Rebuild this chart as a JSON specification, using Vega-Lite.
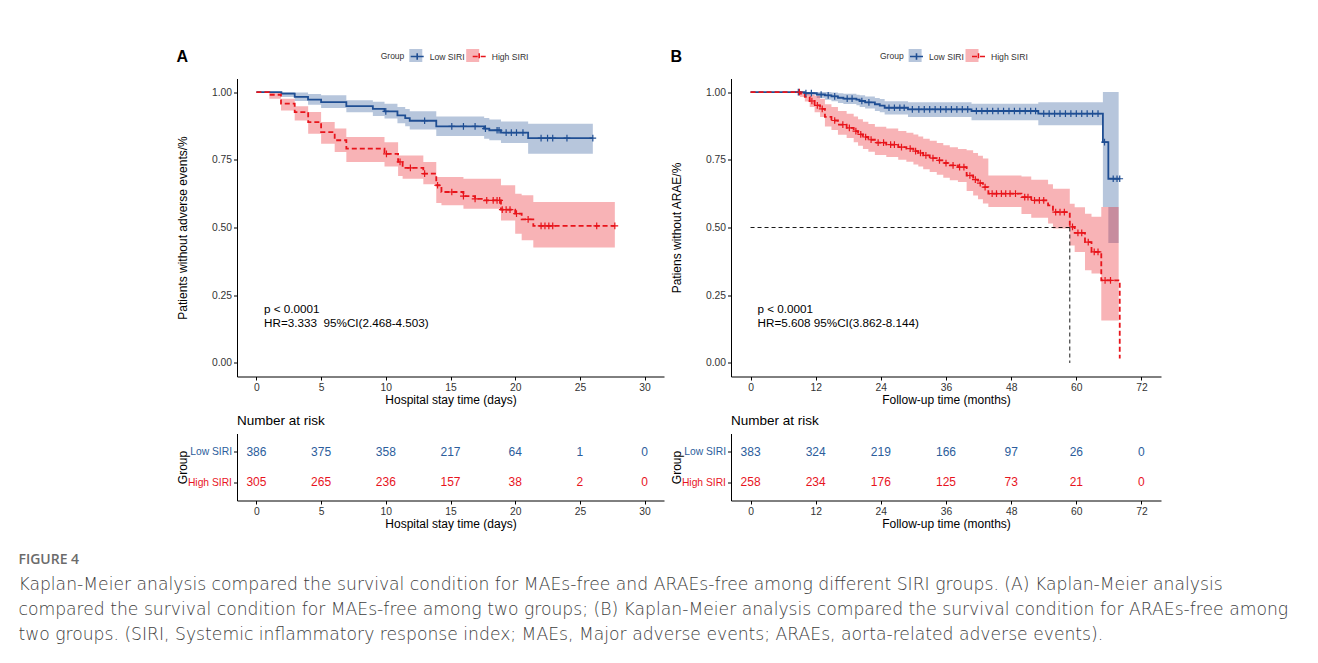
{
  "$schema": "https://vega.github.io/schema/vega-lite/v6.json",
  "background": "white",
  "padding": {"left": 18, "top": 48.5, "right": 5, "bottom": 5},
  "title": {
    "text": "FIGURE 4",
    "subtitle": [
      "Kaplan-Meier analysis compared the survival condition for MAEs-free and ARAEs-free among different SIRI groups. (A) Kaplan-Meier analysis",
      "compared the survival condition for MAEs-free among two groups; (B) Kaplan-Meier analysis compared the survival condition for ARAEs-free among",
      "two groups. (SIRI, Systemic inflammatory response index; MAEs, Major adverse events; ARAEs, aorta-related adverse events)."
    ],
    "orient": "bottom", "anchor": "start", "frame": "bounds", "dx": -158, "offset": 24,
    "font": "Open Sans", "fontSize": 14, "fontWeight": 600, "color": "#6b6b6b",
    "subtitleFont": "DejaVu Sans", "subtitleFontSize": 17.2, "subtitleFontWeight": 300, "subtitleColor": "#3d3d3d", "subtitleLineHeight": 25, "subtitlePadding": 9
  },
  "datasets": {
    "kmA": [
      {"t":0,"s":1,"Group":"Low SIRI"},{"t":1.93,"s":0.994,"Group":"Low SIRI"},{"t":2.96,"s":0.982,"Group":"Low SIRI"},{"t":3.99,"s":0.972,"Group":"Low SIRI"},{"t":5.0,"s":0.963,"Group":"Low SIRI"},{"t":6.95,"s":0.948,"Group":"Low SIRI"},{"t":9.0,"s":0.938,"Group":"Low SIRI"},{"t":9.9,"s":0.929,"Group":"Low SIRI"},{"t":10.9,"s":0.914,"Group":"Low SIRI"},{"t":11.5,"s":0.904,"Group":"Low SIRI"},{"t":11.85,"s":0.894,"Group":"Low SIRI"},{"t":13.9,"s":0.873,"Group":"Low SIRI"},{"t":17.6,"s":0.865,"Group":"Low SIRI"},{"t":18.0,"s":0.859,"Group":"Low SIRI"},{"t":18.9,"s":0.85,"Group":"Low SIRI"},{"t":21.0,"s":0.83,"Group":"Low SIRI"},{"t":26.0,"s":0.83,"Group":"Low SIRI"},
      {"t":0,"s":1,"Group":"High SIRI"},{"t":1.0,"s":0.99,"Group":"High SIRI"},{"t":1.9,"s":0.957,"Group":"High SIRI"},{"t":2.96,"s":0.926,"Group":"High SIRI"},{"t":4.0,"s":0.889,"Group":"High SIRI"},{"t":5.0,"s":0.852,"Group":"High SIRI"},{"t":6.05,"s":0.822,"Group":"High SIRI"},{"t":6.95,"s":0.791,"Group":"High SIRI"},{"t":9.9,"s":0.772,"Group":"High SIRI"},{"t":10.95,"s":0.742,"Group":"High SIRI"},{"t":11.3,"s":0.72,"Group":"High SIRI"},{"t":12.9,"s":0.699,"Group":"High SIRI"},{"t":13.9,"s":0.656,"Group":"High SIRI"},{"t":14.3,"s":0.631,"Group":"High SIRI"},{"t":16.0,"s":0.616,"Group":"High SIRI"},{"t":16.9,"s":0.606,"Group":"High SIRI"},{"t":17.6,"s":0.6,"Group":"High SIRI"},{"t":18.9,"s":0.566,"Group":"High SIRI"},{"t":20.0,"s":0.551,"Group":"High SIRI"},{"t":20.5,"s":0.53,"Group":"High SIRI"},{"t":21.4,"s":0.506,"Group":"High SIRI"},{"t":27.7,"s":0.506,"Group":"High SIRI"}
    ],
    "bandA": [
      {"t":0,"lo":1,"hi":1,"grp":"Low SIRI"},{"t":1.93,"lo":0.982,"hi":1,"grp":"Low SIRI"},{"t":2.96,"lo":0.967,"hi":0.998,"grp":"Low SIRI"},{"t":3.99,"lo":0.953,"hi":0.993,"grp":"Low SIRI"},{"t":5.0,"lo":0.941,"hi":0.988,"grp":"Low SIRI"},{"t":6.95,"lo":0.925,"hi":0.97,"grp":"Low SIRI"},{"t":9.0,"lo":0.912,"hi":0.964,"grp":"Low SIRI"},{"t":9.9,"lo":0.902,"hi":0.957,"grp":"Low SIRI"},{"t":10.9,"lo":0.885,"hi":0.945,"grp":"Low SIRI"},{"t":11.5,"lo":0.874,"hi":0.937,"grp":"Low SIRI"},{"t":11.85,"lo":0.862,"hi":0.929,"grp":"Low SIRI"},{"t":13.9,"lo":0.838,"hi":0.91,"grp":"Low SIRI"},{"t":17.6,"lo":0.828,"hi":0.904,"grp":"Low SIRI"},{"t":18.0,"lo":0.822,"hi":0.899,"grp":"Low SIRI"},{"t":18.9,"lo":0.812,"hi":0.891,"grp":"Low SIRI"},{"t":21.0,"lo":0.772,"hi":0.883,"grp":"Low SIRI"},{"t":26.0,"lo":0.772,"hi":0.883,"grp":"Low SIRI"},
      {"t":0,"lo":1,"hi":1,"grp":"High SIRI"},{"t":1.0,"lo":0.975,"hi":1,"grp":"High SIRI"},{"t":1.9,"lo":0.932,"hi":0.975,"grp":"High SIRI"},{"t":2.96,"lo":0.895,"hi":0.948,"grp":"High SIRI"},{"t":4.0,"lo":0.846,"hi":0.926,"grp":"High SIRI"},{"t":5.0,"lo":0.809,"hi":0.889,"grp":"High SIRI"},{"t":6.05,"lo":0.779,"hi":0.865,"grp":"High SIRI"},{"t":6.95,"lo":0.742,"hi":0.834,"grp":"High SIRI"},{"t":9.9,"lo":0.725,"hi":0.815,"grp":"High SIRI"},{"t":10.95,"lo":0.69,"hi":0.766,"grp":"High SIRI"},{"t":11.3,"lo":0.68,"hi":0.766,"grp":"High SIRI"},{"t":12.9,"lo":0.66,"hi":0.742,"grp":"High SIRI"},{"t":13.9,"lo":0.59,"hi":0.686,"grp":"High SIRI"},{"t":14.3,"lo":0.582,"hi":0.686,"grp":"High SIRI"},{"t":16.0,"lo":0.569,"hi":0.68,"grp":"High SIRI"},{"t":18.9,"lo":0.526,"hi":0.656,"grp":"High SIRI"},{"t":20.0,"lo":0.477,"hi":0.625,"grp":"High SIRI"},{"t":20.5,"lo":0.453,"hi":0.619,"grp":"High SIRI"},{"t":21.4,"lo":0.426,"hi":0.594,"grp":"High SIRI"},{"t":27.7,"lo":0.426,"hi":0.594,"grp":"High SIRI"}
    ],
    "censA": [
      {"t":10.0,"s":0.929,"Group":"Low SIRI"},{"t":13.0,"s":0.894,"Group":"Low SIRI"},{"t":15.1,"s":0.873,"Group":"Low SIRI"},{"t":16.0,"s":0.873,"Group":"Low SIRI"},{"t":16.9,"s":0.873,"Group":"Low SIRI"},{"t":17.7,"s":0.865,"Group":"Low SIRI"},{"t":18.6,"s":0.859,"Group":"Low SIRI"},{"t":18.75,"s":0.859,"Group":"Low SIRI"},{"t":19.3,"s":0.85,"Group":"Low SIRI"},{"t":19.7,"s":0.85,"Group":"Low SIRI"},{"t":20.1,"s":0.85,"Group":"Low SIRI"},{"t":20.6,"s":0.85,"Group":"Low SIRI"},{"t":22.0,"s":0.83,"Group":"Low SIRI"},{"t":22.5,"s":0.83,"Group":"Low SIRI"},{"t":22.9,"s":0.83,"Group":"Low SIRI"},{"t":24.0,"s":0.83,"Group":"Low SIRI"},{"t":26.0,"s":0.83,"Group":"Low SIRI"},
      {"t":10.05,"s":0.772,"Group":"High SIRI"},{"t":11.1,"s":0.742,"Group":"High SIRI"},{"t":11.9,"s":0.72,"Group":"High SIRI"},{"t":13.0,"s":0.699,"Group":"High SIRI"},{"t":14.0,"s":0.656,"Group":"High SIRI"},{"t":15.1,"s":0.631,"Group":"High SIRI"},{"t":16.0,"s":0.616,"Group":"High SIRI"},{"t":16.9,"s":0.606,"Group":"High SIRI"},{"t":17.8,"s":0.6,"Group":"High SIRI"},{"t":18.3,"s":0.6,"Group":"High SIRI"},{"t":18.6,"s":0.6,"Group":"High SIRI"},{"t":18.8,"s":0.6,"Group":"High SIRI"},{"t":19.0,"s":0.566,"Group":"High SIRI"},{"t":19.3,"s":0.566,"Group":"High SIRI"},{"t":19.6,"s":0.566,"Group":"High SIRI"},{"t":20.1,"s":0.551,"Group":"High SIRI"},{"t":21.0,"s":0.53,"Group":"High SIRI"},{"t":22.0,"s":0.506,"Group":"High SIRI"},{"t":22.3,"s":0.506,"Group":"High SIRI"},{"t":22.6,"s":0.506,"Group":"High SIRI"},{"t":22.9,"s":0.506,"Group":"High SIRI"},{"t":26.3,"s":0.506,"Group":"High SIRI"},{"t":27.7,"s":0.506,"Group":"High SIRI"}
    ],
    "kmB": [
      {"t":0,"s":1,"Group":"Low SIRI"},{"t":10.0,"s":0.996,"Group":"Low SIRI"},{"t":12.2,"s":0.991,"Group":"Low SIRI"},{"t":13.7,"s":0.988,"Group":"Low SIRI"},{"t":14.9,"s":0.984,"Group":"Low SIRI"},{"t":16.1,"s":0.979,"Group":"Low SIRI"},{"t":17.1,"s":0.976,"Group":"Low SIRI"},{"t":19.5,"s":0.972,"Group":"Low SIRI"},{"t":20.1,"s":0.967,"Group":"Low SIRI"},{"t":21.1,"s":0.962,"Group":"Low SIRI"},{"t":22.9,"s":0.955,"Group":"Low SIRI"},{"t":23.8,"s":0.95,"Group":"Low SIRI"},{"t":24.7,"s":0.942,"Group":"Low SIRI"},{"t":29.0,"s":0.936,"Group":"Low SIRI"},{"t":40.7,"s":0.93,"Group":"Low SIRI"},{"t":53.0,"s":0.92,"Group":"Low SIRI"},{"t":64.9,"s":0.815,"Group":"Low SIRI"},{"t":65.9,"s":0.68,"Group":"Low SIRI"},{"t":68.0,"s":0.68,"Group":"Low SIRI"},
      {"t":0,"s":1,"Group":"High SIRI"},{"t":9.1,"s":0.994,"Group":"High SIRI"},{"t":10.0,"s":0.982,"Group":"High SIRI"},{"t":10.9,"s":0.967,"Group":"High SIRI"},{"t":11.8,"s":0.951,"Group":"High SIRI"},{"t":12.8,"s":0.938,"Group":"High SIRI"},{"t":13.7,"s":0.908,"Group":"High SIRI"},{"t":14.9,"s":0.895,"Group":"High SIRI"},{"t":16.1,"s":0.88,"Group":"High SIRI"},{"t":17.7,"s":0.868,"Group":"High SIRI"},{"t":19.0,"s":0.856,"Group":"High SIRI"},{"t":19.8,"s":0.844,"Group":"High SIRI"},{"t":20.7,"s":0.834,"Group":"High SIRI"},{"t":21.7,"s":0.824,"Group":"High SIRI"},{"t":22.9,"s":0.813,"Group":"High SIRI"},{"t":25.0,"s":0.806,"Group":"High SIRI"},{"t":27.2,"s":0.797,"Group":"High SIRI"},{"t":28.7,"s":0.791,"Group":"High SIRI"},{"t":30.0,"s":0.782,"Group":"High SIRI"},{"t":30.9,"s":0.775,"Group":"High SIRI"},{"t":31.8,"s":0.766,"Group":"High SIRI"},{"t":33.0,"s":0.756,"Group":"High SIRI"},{"t":34.3,"s":0.748,"Group":"High SIRI"},{"t":35.5,"s":0.738,"Group":"High SIRI"},{"t":36.7,"s":0.729,"Group":"High SIRI"},{"t":38.2,"s":0.723,"Group":"High SIRI"},{"t":39.8,"s":0.692,"Group":"High SIRI"},{"t":41.0,"s":0.677,"Group":"High SIRI"},{"t":41.9,"s":0.664,"Group":"High SIRI"},{"t":42.8,"s":0.649,"Group":"High SIRI"},{"t":43.8,"s":0.625,"Group":"High SIRI"},{"t":49.9,"s":0.612,"Group":"High SIRI"},{"t":51.7,"s":0.6,"Group":"High SIRI"},{"t":54.8,"s":0.582,"Group":"High SIRI"},{"t":55.7,"s":0.557,"Group":"High SIRI"},{"t":58.8,"s":0.502,"Group":"High SIRI"},{"t":59.7,"s":0.48,"Group":"High SIRI"},{"t":61.6,"s":0.446,"Group":"High SIRI"},{"t":62.8,"s":0.41,"Group":"High SIRI"},{"t":64.6,"s":0.305,"Group":"High SIRI"},{"t":68.0,"s":0.016,"Group":"High SIRI"}
    ],
    "bandB": [
      {"t":0,"lo":1,"hi":1,"grp":"Low SIRI"},{"t":10.0,"lo":0.988,"hi":1,"grp":"Low SIRI"},{"t":12.2,"lo":0.978,"hi":1,"grp":"Low SIRI"},{"t":13.7,"lo":0.972,"hi":1,"grp":"Low SIRI"},{"t":14.9,"lo":0.966,"hi":0.998,"grp":"Low SIRI"},{"t":16.1,"lo":0.96,"hi":0.996,"grp":"Low SIRI"},{"t":17.1,"lo":0.956,"hi":0.994,"grp":"Low SIRI"},{"t":19.5,"lo":0.951,"hi":0.99,"grp":"Low SIRI"},{"t":20.1,"lo":0.945,"hi":0.988,"grp":"Low SIRI"},{"t":21.1,"lo":0.939,"hi":0.984,"grp":"Low SIRI"},{"t":22.9,"lo":0.93,"hi":0.978,"grp":"Low SIRI"},{"t":23.8,"lo":0.925,"hi":0.974,"grp":"Low SIRI"},{"t":24.7,"lo":0.917,"hi":0.966,"grp":"Low SIRI"},{"t":29.0,"lo":0.908,"hi":0.962,"grp":"Low SIRI"},{"t":40.7,"lo":0.896,"hi":0.957,"grp":"Low SIRI"},{"t":53.0,"lo":0.877,"hi":0.962,"grp":"Low SIRI"},{"t":64.9,"lo":0.576,"hi":1,"grp":"Low SIRI"},{"t":65.9,"lo":0.443,"hi":1,"grp":"Low SIRI"},{"t":67.8,"lo":0.443,"hi":1,"grp":"Low SIRI"},
      {"t":0,"lo":1,"hi":1,"grp":"High SIRI"},{"t":9.1,"lo":0.982,"hi":1,"grp":"High SIRI"},{"t":10.0,"lo":0.965,"hi":0.998,"grp":"High SIRI"},{"t":10.9,"lo":0.945,"hi":0.99,"grp":"High SIRI"},{"t":11.8,"lo":0.925,"hi":0.985,"grp":"High SIRI"},{"t":12.8,"lo":0.908,"hi":0.975,"grp":"High SIRI"},{"t":13.7,"lo":0.873,"hi":0.955,"grp":"High SIRI"},{"t":14.9,"lo":0.86,"hi":0.945,"grp":"High SIRI"},{"t":16.1,"lo":0.842,"hi":0.93,"grp":"High SIRI"},{"t":17.7,"lo":0.83,"hi":0.92,"grp":"High SIRI"},{"t":19.0,"lo":0.815,"hi":0.91,"grp":"High SIRI"},{"t":19.8,"lo":0.802,"hi":0.9,"grp":"High SIRI"},{"t":20.7,"lo":0.79,"hi":0.89,"grp":"High SIRI"},{"t":21.7,"lo":0.78,"hi":0.882,"grp":"High SIRI"},{"t":22.9,"lo":0.768,"hi":0.872,"grp":"High SIRI"},{"t":25.0,"lo":0.76,"hi":0.865,"grp":"High SIRI"},{"t":27.2,"lo":0.75,"hi":0.856,"grp":"High SIRI"},{"t":28.7,"lo":0.743,"hi":0.85,"grp":"High SIRI"},{"t":30.0,"lo":0.733,"hi":0.843,"grp":"High SIRI"},{"t":30.9,"lo":0.725,"hi":0.836,"grp":"High SIRI"},{"t":31.8,"lo":0.715,"hi":0.828,"grp":"High SIRI"},{"t":33.0,"lo":0.705,"hi":0.82,"grp":"High SIRI"},{"t":34.3,"lo":0.695,"hi":0.812,"grp":"High SIRI"},{"t":35.5,"lo":0.684,"hi":0.804,"grp":"High SIRI"},{"t":36.7,"lo":0.674,"hi":0.796,"grp":"High SIRI"},{"t":38.2,"lo":0.668,"hi":0.79,"grp":"High SIRI"},{"t":39.8,"lo":0.635,"hi":0.785,"grp":"High SIRI"},{"t":41.0,"lo":0.618,"hi":0.775,"grp":"High SIRI"},{"t":41.9,"lo":0.604,"hi":0.765,"grp":"High SIRI"},{"t":42.8,"lo":0.589,"hi":0.755,"grp":"High SIRI"},{"t":43.8,"lo":0.576,"hi":0.692,"grp":"High SIRI"},{"t":49.9,"lo":0.55,"hi":0.688,"grp":"High SIRI"},{"t":51.7,"lo":0.536,"hi":0.676,"grp":"High SIRI"},{"t":54.8,"lo":0.515,"hi":0.66,"grp":"High SIRI"},{"t":55.7,"lo":0.496,"hi":0.643,"grp":"High SIRI"},{"t":58.8,"lo":0.434,"hi":0.588,"grp":"High SIRI"},{"t":59.7,"lo":0.41,"hi":0.575,"grp":"High SIRI"},{"t":61.6,"lo":0.342,"hi":0.551,"grp":"High SIRI"},{"t":62.8,"lo":0.33,"hi":0.54,"grp":"High SIRI"},{"t":64.6,"lo":0.157,"hi":0.576,"grp":"High SIRI"},{"t":67.8,"lo":0.157,"hi":0.576,"grp":"High SIRI"}
    ],
    "censB": [
      {"t":8.8,"s":1,"Group":"Low SIRI"},{"t":10.2,"s":0.996,"Group":"Low SIRI"},{"t":11.2,"s":0.996,"Group":"Low SIRI"},{"t":13.0,"s":0.991,"Group":"Low SIRI"},{"t":14.3,"s":0.988,"Group":"Low SIRI"},{"t":15.5,"s":0.984,"Group":"Low SIRI"},{"t":17.8,"s":0.976,"Group":"Low SIRI"},{"t":18.7,"s":0.976,"Group":"Low SIRI"},{"t":20.5,"s":0.967,"Group":"Low SIRI"},{"t":21.8,"s":0.962,"Group":"Low SIRI"},{"t":25.5,"s":0.942,"Group":"Low SIRI"},{"t":26.5,"s":0.942,"Group":"Low SIRI"},{"t":27.5,"s":0.942,"Group":"Low SIRI"},{"t":28.3,"s":0.942,"Group":"Low SIRI"},{"t":29.8,"s":0.936,"Group":"Low SIRI"},{"t":31,"s":0.936,"Group":"Low SIRI"},{"t":32,"s":0.936,"Group":"Low SIRI"},{"t":33,"s":0.936,"Group":"Low SIRI"},{"t":34,"s":0.936,"Group":"Low SIRI"},{"t":35,"s":0.936,"Group":"Low SIRI"},{"t":36,"s":0.936,"Group":"Low SIRI"},{"t":37,"s":0.936,"Group":"Low SIRI"},{"t":38,"s":0.936,"Group":"Low SIRI"},{"t":39,"s":0.936,"Group":"Low SIRI"},{"t":40,"s":0.936,"Group":"Low SIRI"},{"t":41.6,"s":0.93,"Group":"Low SIRI"},{"t":42.6,"s":0.93,"Group":"Low SIRI"},{"t":43.6,"s":0.93,"Group":"Low SIRI"},{"t":44.6,"s":0.93,"Group":"Low SIRI"},{"t":45.6,"s":0.93,"Group":"Low SIRI"},{"t":46.6,"s":0.93,"Group":"Low SIRI"},{"t":47.6,"s":0.93,"Group":"Low SIRI"},{"t":48.6,"s":0.93,"Group":"Low SIRI"},{"t":49.6,"s":0.93,"Group":"Low SIRI"},{"t":50.6,"s":0.93,"Group":"Low SIRI"},{"t":51.6,"s":0.93,"Group":"Low SIRI"},{"t":52.5,"s":0.93,"Group":"Low SIRI"},{"t":54,"s":0.92,"Group":"Low SIRI"},{"t":55,"s":0.92,"Group":"Low SIRI"},{"t":56,"s":0.92,"Group":"Low SIRI"},{"t":57,"s":0.92,"Group":"Low SIRI"},{"t":58,"s":0.92,"Group":"Low SIRI"},{"t":59,"s":0.92,"Group":"Low SIRI"},{"t":60,"s":0.92,"Group":"Low SIRI"},{"t":61,"s":0.92,"Group":"Low SIRI"},{"t":62,"s":0.92,"Group":"Low SIRI"},{"t":63,"s":0.92,"Group":"Low SIRI"},{"t":64,"s":0.92,"Group":"Low SIRI"},{"t":65.2,"s":0.815,"Group":"Low SIRI"},{"t":66.8,"s":0.68,"Group":"Low SIRI"},{"t":67.5,"s":0.68,"Group":"Low SIRI"},{"t":68,"s":0.68,"Group":"Low SIRI"},
      {"t":9.0,"s":1,"Group":"High SIRI"},{"t":11.3,"s":0.967,"Group":"High SIRI"},{"t":12.3,"s":0.951,"Group":"High SIRI"},{"t":13.2,"s":0.938,"Group":"High SIRI"},{"t":15.5,"s":0.895,"Group":"High SIRI"},{"t":17.0,"s":0.88,"Group":"High SIRI"},{"t":18.2,"s":0.868,"Group":"High SIRI"},{"t":19.4,"s":0.856,"Group":"High SIRI"},{"t":20.3,"s":0.844,"Group":"High SIRI"},{"t":21.2,"s":0.834,"Group":"High SIRI"},{"t":22.2,"s":0.824,"Group":"High SIRI"},{"t":23.5,"s":0.813,"Group":"High SIRI"},{"t":24.5,"s":0.813,"Group":"High SIRI"},{"t":25.8,"s":0.806,"Group":"High SIRI"},{"t":26.5,"s":0.806,"Group":"High SIRI"},{"t":27.8,"s":0.797,"Group":"High SIRI"},{"t":29.4,"s":0.791,"Group":"High SIRI"},{"t":30.4,"s":0.782,"Group":"High SIRI"},{"t":31.3,"s":0.775,"Group":"High SIRI"},{"t":32.3,"s":0.766,"Group":"High SIRI"},{"t":33.6,"s":0.756,"Group":"High SIRI"},{"t":34.8,"s":0.748,"Group":"High SIRI"},{"t":36.0,"s":0.738,"Group":"High SIRI"},{"t":37.3,"s":0.729,"Group":"High SIRI"},{"t":38.5,"s":0.723,"Group":"High SIRI"},{"t":39.3,"s":0.723,"Group":"High SIRI"},{"t":40.4,"s":0.692,"Group":"High SIRI"},{"t":41.4,"s":0.677,"Group":"High SIRI"},{"t":42.3,"s":0.664,"Group":"High SIRI"},{"t":43.2,"s":0.649,"Group":"High SIRI"},{"t":44.5,"s":0.625,"Group":"High SIRI"},{"t":45.3,"s":0.625,"Group":"High SIRI"},{"t":46.2,"s":0.625,"Group":"High SIRI"},{"t":47.0,"s":0.625,"Group":"High SIRI"},{"t":47.8,"s":0.625,"Group":"High SIRI"},{"t":48.8,"s":0.625,"Group":"High SIRI"},{"t":50.5,"s":0.612,"Group":"High SIRI"},{"t":51.1,"s":0.612,"Group":"High SIRI"},{"t":52.3,"s":0.6,"Group":"High SIRI"},{"t":53.2,"s":0.6,"Group":"High SIRI"},{"t":54.0,"s":0.6,"Group":"High SIRI"},{"t":56.2,"s":0.557,"Group":"High SIRI"},{"t":57.0,"s":0.557,"Group":"High SIRI"},{"t":57.8,"s":0.557,"Group":"High SIRI"},{"t":59.3,"s":0.502,"Group":"High SIRI"},{"t":60.3,"s":0.48,"Group":"High SIRI"},{"t":61.0,"s":0.48,"Group":"High SIRI"},{"t":62.2,"s":0.446,"Group":"High SIRI"},{"t":63.3,"s":0.41,"Group":"High SIRI"},{"t":64.0,"s":0.41,"Group":"High SIRI"},{"t":65.3,"s":0.305,"Group":"High SIRI"},{"t":66.3,"s":0.305,"Group":"High SIRI"}
    ],
    "riskA": [
      {"t":0,"Group":"Low SIRI","n":386},{"t":5,"Group":"Low SIRI","n":375},{"t":10,"Group":"Low SIRI","n":358},{"t":15,"Group":"Low SIRI","n":217},{"t":20,"Group":"Low SIRI","n":64},{"t":25,"Group":"Low SIRI","n":1},{"t":30,"Group":"Low SIRI","n":0},
      {"t":0,"Group":"High SIRI","n":305},{"t":5,"Group":"High SIRI","n":265},{"t":10,"Group":"High SIRI","n":236},{"t":15,"Group":"High SIRI","n":157},{"t":20,"Group":"High SIRI","n":38},{"t":25,"Group":"High SIRI","n":2},{"t":30,"Group":"High SIRI","n":0}
    ],
    "riskB": [
      {"t":0,"Group":"Low SIRI","n":383},{"t":12,"Group":"Low SIRI","n":324},{"t":24,"Group":"Low SIRI","n":219},{"t":36,"Group":"Low SIRI","n":166},{"t":48,"Group":"Low SIRI","n":97},{"t":60,"Group":"Low SIRI","n":26},{"t":72,"Group":"Low SIRI","n":0},
      {"t":0,"Group":"High SIRI","n":258},{"t":12,"Group":"High SIRI","n":234},{"t":24,"Group":"High SIRI","n":176},{"t":36,"Group":"High SIRI","n":125},{"t":48,"Group":"High SIRI","n":73},{"t":60,"Group":"High SIRI","n":21},{"t":72,"Group":"High SIRI","n":0}
    ]
  },
  "hconcat": [
    {
      "vconcat": [
        {
          "width": 427, "height": 298,
          "title": {"text": "A", "anchor": "start", "frame": "bounds", "fontSize": 16, "fontWeight": "bold", "color": "#000", "dy": 20},
          "layer": [
            {
              "data": {"name": "bandA"},
              "mark": {"type": "area", "interpolate": "step-after", "opacity": 0.32},
              "encoding": {
                "x": {"field": "t", "type": "quantitative", "title": "Hospital stay time (days)", "scale": {"domain": [-1.5, 31.5], "nice": false, "zero": false}, "axis": {"values": [0,5,10,15,20,25,30], "labelFlush": false, "titlePadding": 2}},
                "y": {"field": "lo", "type": "quantitative", "title": "Patients without adverse events/%", "scale": {"domain": [-0.05, 1.05], "nice": false, "zero": false}, "axis": {"values": [0,0.25,0.5,0.75,1], "format": ".2f", "titlePadding": 22}},
                "y2": {"field": "hi"},
                "fill": {"field": "grp", "type": "nominal", "sort": ["Low SIRI","High SIRI"], "scale": {"range": ["#1f4e93","#e8141b"]}, "legend": {"orient": "none", "legendX": 172.3, "legendY": -29.5, "direction": "horizontal", "title": null, "labelExpr": "''", "labelOffset": 5, "columnPadding": 38.9, "symbolType": "square", "symbolSize": 169, "symbolOpacity": 0.32, "symbolStrokeWidth": 0}}
              }
            },
            {
              "data": {"name": "kmA"},
              "mark": {"type": "line", "interpolate": "step-after", "strokeWidth": 1.8},
              "encoding": {
                "x": {"field": "t", "type": "quantitative", "title": "Hospital stay time (days)", "scale": {"domain": [-1.5, 31.5], "nice": false, "zero": false}},
                "y": {"field": "s", "type": "quantitative", "title": "Patients without adverse events/%", "scale": {"domain": [-0.05, 1.05], "nice": false, "zero": false}},
                "stroke": {"field": "Group", "type": "nominal", "scale": {"domain": ["Low SIRI","High SIRI"], "range": ["#1f4e93","#e8141b"]}, "legend": {"orient": "none", "legendX": 143.7, "legendY": -29.5, "direction": "horizontal", "title": "Group", "titleOrient": "left", "symbolType": "M-1,0H1M0,-0.5V0.5", "symbolSize": 169, "symbolStrokeWidth": 1.6}},
                "strokeDash": {"field": "Group", "type": "nominal", "scale": {"domain": ["Low SIRI","High SIRI"], "range": [[1,0],[5,3]]}, "legend": {"orient": "none", "legendX": 143.7, "legendY": -29.5, "direction": "horizontal", "title": "Group", "titleOrient": "left", "symbolType": "M-1,0H1M0,-0.5V0.5", "symbolSize": 169, "symbolStrokeWidth": 1.6}}
              }
            },
            {
              "data": {"name": "censA"},
              "mark": {"type": "point", "shape": "M-1,0H1M0,-1V1", "filled": false, "size": 45, "strokeWidth": 1.2, "opacity": 1},
              "encoding": {
                "x": {"field": "t", "type": "quantitative", "title": "Hospital stay time (days)", "scale": {"domain": [-1.5, 31.5], "nice": false, "zero": false}},
                "y": {"field": "s", "type": "quantitative", "title": "Patients without adverse events/%", "scale": {"domain": [-0.05, 1.05], "nice": false, "zero": false}},
                "stroke": {"field": "Group", "type": "nominal", "scale": {"domain": ["Low SIRI","High SIRI"], "range": ["#1f4e93","#e8141b"]}, "legend": {"orient": "none", "legendX": 143.7, "legendY": -29.5, "direction": "horizontal", "title": "Group", "titleOrient": "left", "symbolType": "M-1,0H1M0,-0.5V0.5", "symbolSize": 169, "symbolStrokeWidth": 1.6}}
              }
            },
            {
              "data": {"values": [{}]},
              "mark": {"type": "text", "text": ["p < 0.0001", "HR=3.333\u00a0 95%CI(2.468-4.503)"], "align": "left", "baseline": "alphabetic", "fontSize": 11.7, "lineHeight": 13.7, "color": "#000"},
              "encoding": {"x": {"datum": 0.59}, "y": {"datum": 0.183}}
            }
          ]
        },
        {
          "width": 427, "height": 67,
          "title": {"text": "Number at risk", "anchor": "start", "frame": "group", "fontSize": 13.5, "fontWeight": "normal", "color": "#000", "offset": 6},
          "data": {"name": "riskA"},
          "mark": {"type": "text", "fontSize": 12},
          "encoding": {
            "x": {"field": "t", "type": "quantitative", "title": "Hospital stay time (days)", "scale": {"domain": [-1.5, 31.5], "nice": false, "zero": false}, "axis": {"values": [0,5,10,15,20,25,30], "labelFlush": false, "titlePadding": 2}},
            "y": {"field": "Group", "type": "nominal", "title": "Group", "sort": ["Low SIRI","High SIRI"], "scale": {"padding": 0.6}, "axis": {"titlePadding": -2, "labelColor": {"condition": {"test": "datum.value === 'Low SIRI'", "value": "#2b5d9c"}, "value": "#e8141e"}}},
            "text": {"field": "n", "type": "quantitative"},
            "color": {"field": "Group", "type": "nominal", "scale": {"domain": ["Low SIRI","High SIRI"], "range": ["#2b5d9c","#e8141e"]}, "legend": null}
          }
        }
      ],
      "spacing": 8,
      "resolve": {"scale": {"x": "independent", "y": "independent"}, "legend": {"fill": "independent", "stroke": "independent", "strokeDash": "independent", "color": "independent"}}
    },
    {
      "vconcat": [
        {
          "width": 430, "height": 298,
          "title": {"text": "B", "anchor": "start", "frame": "bounds", "fontSize": 16, "fontWeight": "bold", "color": "#000", "dy": 20},
          "layer": [
            {
              "data": {"name": "bandB"},
              "mark": {"type": "area", "interpolate": "step-after", "opacity": 0.32},
              "encoding": {
                "x": {"field": "t", "type": "quantitative", "title": "Follow-up time (months)", "scale": {"domain": [-3.6, 75.6], "nice": false, "zero": false}, "axis": {"values": [0,12,24,36,48,60,72], "labelFlush": false, "titlePadding": 2}},
                "y": {"field": "lo", "type": "quantitative", "title": "Patiens without ARAE/%", "scale": {"domain": [-0.05, 1.05], "nice": false, "zero": false}, "axis": {"values": [0,0.25,0.5,0.75,1], "format": ".2f", "titlePadding": 22}},
                "y2": {"field": "hi"},
                "fill": {"field": "grp", "type": "nominal", "sort": ["Low SIRI","High SIRI"], "scale": {"range": ["#1f4e93","#e8141b"]}, "legend": {"orient": "none", "legendX": 177.6, "legendY": -29.5, "direction": "horizontal", "title": null, "labelExpr": "''", "labelOffset": 5, "columnPadding": 38.9, "symbolType": "square", "symbolSize": 169, "symbolOpacity": 0.32, "symbolStrokeWidth": 0}}
              }
            },
            {
              "data": {"name": "kmB"},
              "mark": {"type": "line", "interpolate": "step-after", "strokeWidth": 1.8},
              "encoding": {
                "x": {"field": "t", "type": "quantitative", "title": "Follow-up time (months)", "scale": {"domain": [-3.6, 75.6], "nice": false, "zero": false}},
                "y": {"field": "s", "type": "quantitative", "title": "Patiens without ARAE/%", "scale": {"domain": [-0.05, 1.05], "nice": false, "zero": false}},
                "stroke": {"field": "Group", "type": "nominal", "scale": {"domain": ["Low SIRI","High SIRI"], "range": ["#1f4e93","#e8141b"]}, "legend": {"orient": "none", "legendX": 149, "legendY": -29.5, "direction": "horizontal", "title": "Group", "titleOrient": "left", "symbolType": "M-1,0H1M0,-0.5V0.5", "symbolSize": 169, "symbolStrokeWidth": 1.6}},
                "strokeDash": {"field": "Group", "type": "nominal", "scale": {"domain": ["Low SIRI","High SIRI"], "range": [[1,0],[5,3]]}, "legend": {"orient": "none", "legendX": 149, "legendY": -29.5, "direction": "horizontal", "title": "Group", "titleOrient": "left", "symbolType": "M-1,0H1M0,-0.5V0.5", "symbolSize": 169, "symbolStrokeWidth": 1.6}}
              }
            },
            {
              "data": {"name": "censB"},
              "mark": {"type": "point", "shape": "M-1,0H1M0,-1V1", "filled": false, "size": 45, "strokeWidth": 1.2, "opacity": 1},
              "encoding": {
                "x": {"field": "t", "type": "quantitative", "title": "Follow-up time (months)", "scale": {"domain": [-3.6, 75.6], "nice": false, "zero": false}},
                "y": {"field": "s", "type": "quantitative", "title": "Patiens without ARAE/%", "scale": {"domain": [-0.05, 1.05], "nice": false, "zero": false}},
                "stroke": {"field": "Group", "type": "nominal", "scale": {"domain": ["Low SIRI","High SIRI"], "range": ["#1f4e93","#e8141b"]}, "legend": {"orient": "none", "legendX": 149, "legendY": -29.5, "direction": "horizontal", "title": "Group", "titleOrient": "left", "symbolType": "M-1,0H1M0,-0.5V0.5", "symbolSize": 169, "symbolStrokeWidth": 1.6}}
              }
            },
            {
              "data": {"values": [{}]},
              "mark": {"type": "rule", "strokeDash": [4,3], "strokeWidth": 0.9, "color": "#000"},
              "encoding": {"x": {"datum": 0}, "x2": {"datum": 58.8}, "y": {"datum": 0.5}}
            },
            {
              "data": {"values": [{}]},
              "mark": {"type": "rule", "strokeDash": [4,3], "strokeWidth": 0.9, "color": "#000"},
              "encoding": {"x": {"datum": 58.8}, "y": {"datum": 0.5}, "y2": {"datum": 0}}
            },
            {
              "data": {"values": [{}]},
              "mark": {"type": "text", "text": ["p < 0.0001", "HR=5.608 95%CI(3.862-8.144)"], "align": "left", "baseline": "alphabetic", "fontSize": 11.7, "lineHeight": 13.7, "color": "#000"},
              "encoding": {"x": {"datum": 1.29}, "y": {"datum": 0.183}}
            }
          ]
        },
        {
          "width": 430, "height": 67,
          "title": {"text": "Number at risk", "anchor": "start", "frame": "group", "fontSize": 13.5, "fontWeight": "normal", "color": "#000", "offset": 6},
          "data": {"name": "riskB"},
          "mark": {"type": "text", "fontSize": 12},
          "encoding": {
            "x": {"field": "t", "type": "quantitative", "title": "Follow-up time (months)", "scale": {"domain": [-3.6, 75.6], "nice": false, "zero": false}, "axis": {"values": [0,12,24,36,48,60,72], "labelFlush": false, "titlePadding": 2}},
            "y": {"field": "Group", "type": "nominal", "title": "Group", "sort": ["Low SIRI","High SIRI"], "scale": {"padding": 0.6}, "axis": {"titlePadding": -2, "labelColor": {"condition": {"test": "datum.value === 'Low SIRI'", "value": "#2b5d9c"}, "value": "#e8141e"}}},
            "text": {"field": "n", "type": "quantitative"},
            "color": {"field": "Group", "type": "nominal", "scale": {"domain": ["Low SIRI","High SIRI"], "range": ["#2b5d9c","#e8141e"]}, "legend": null}
          }
        }
      ],
      "spacing": 8,
      "resolve": {"scale": {"x": "independent", "y": "independent"}, "legend": {"fill": "independent", "stroke": "independent", "strokeDash": "independent", "color": "independent"}}
    }
  ],
  "spacing": 6,
  "resolve": {"scale": {"x": "independent", "y": "independent"}, "legend": {"fill": "independent", "stroke": "independent", "strokeDash": "independent", "color": "independent"}},
  "config": {
    "font": "Liberation Sans",
    "view": {"stroke": null},
    "axis": {"grid": false, "domainColor": "#000", "tickColor": "#000", "labelColor": "#333333", "titleColor": "#000", "labelFontSize": 10.3, "titleFontSize": 12, "titleFontWeight": "normal", "tickSize": 3.5, "labelPadding": 2, "labelOverlap": false},
    "legend": {"titleFontSize": 8.5, "titleFontWeight": "normal", "labelFontSize": 8.6, "titleColor": "#333333", "labelColor": "#333333", "titlePadding": 5, "labelOffset": 5, "columnPadding": 4}
  }
}
